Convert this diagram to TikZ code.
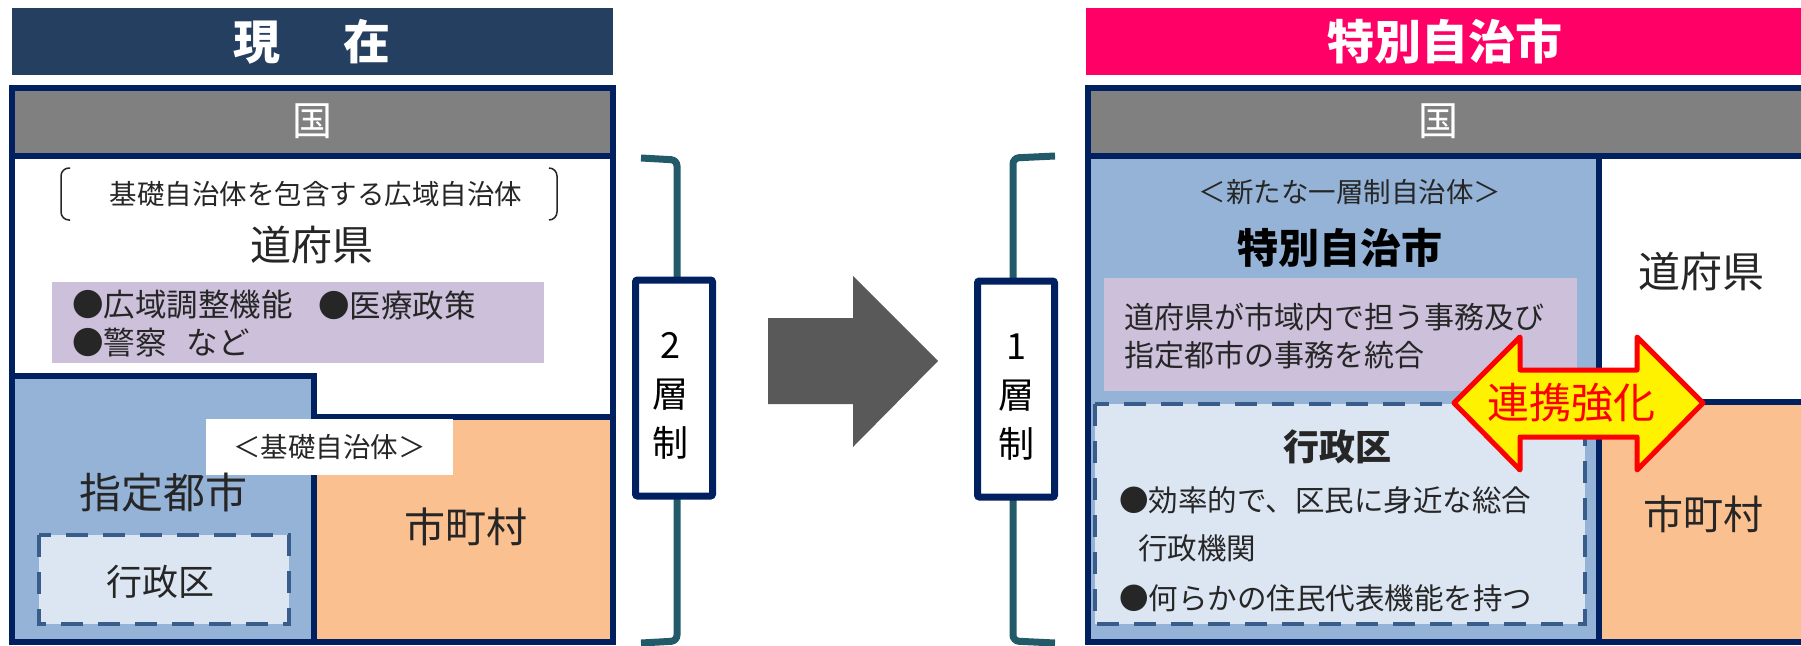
\documentclass[tikz,border=0pt]{standalone}
\usepackage{fontspec}
\setmainfont{Noto Sans CJK JP}

\definecolor{navy}{RGB}{0,32,96}
\definecolor{slate}{RGB}{36,63,96}
\definecolor{pinkred}{RGB}{255,0,102}
\definecolor{kunigray}{RGB}{128,128,128}
\definecolor{cityblue}{RGB}{149,179,215}
\definecolor{townorange}{RGB}{250,192,144}
\definecolor{lavender}{RGB}{204,192,218}
\definecolor{wardblue}{RGB}{220,230,242}
\definecolor{dashblue}{RGB}{56,93,138}
\definecolor{bracketteal}{RGB}{35,90,105}
\definecolor{arrowgray}{RGB}{89,89,89}
\definecolor{txt}{RGB}{38,38,38}

\newcommand\jpsize[1]{\fontsize{#1pt}{#1pt}\selectfont}

\tikzset{
  every node/.style={inner sep=0pt, text=txt},
  titletext/.style={font=\bfseries\jpsize{47}, text=white},
  kuni/.style={font=\jpsize{40}, text=white},
  bigname/.style={font=\jpsize{41}},
  small/.style={font=\jpsize{27.5}},
  navyline/.style={draw=navy, line width=6pt},
  wardbox/.style={fill=wardblue, draw=dashblue, line width=4.5pt, dash pattern=on 22pt off 15pt},
  layerbox/.style={draw=navy, fill=white, line width=7pt, rounded corners=2pt, minimum width=77pt, minimum height=216pt},
  layertext/.style={font=\fontsize{36pt}{49pt}\selectfont, text=black, align=center},
  bracket/.style={draw=bracketteal, line width=7pt, rounded corners=6pt},
}

\begin{document}
\begin{tikzpicture}[x=1pt, y=-1pt]
    \useasboundingbox (0,0) rectangle (1801,645);
    \clip (0,0) rectangle (1801,645);

    % Current system
    \fill[slate] (12,8) rectangle (613,75);
    \node[titletext] (nowtitle) at (312,42) {現\hspace{64pt}在};
    \fill[white] (12,88) rectangle (613,642);
    \fill[kunigray] (12,88) rectangle (613,156);
    \draw[navyline] (12,156) -- (613,156);
    \node[kuni] (nowkuni) at (312,121) {国};

    \draw[txt, line width=1.5pt, rounded corners=8pt] (70,168) -- (61,168) -- (61,220) -- (70,220);
    \draw[txt, line width=1.5pt, rounded corners=8pt] (549,168) -- (557,168) -- (557,220) -- (549,220);
    \node[small] (paren) at (316,194) {基礎自治体を包含する広域自治体};
    \node[bigname] (nowpref) at (312,245) {道府県};

    \fill[lavender] (52,282) rectangle (544,363);
    \node[font=\jpsize{31.5}, anchor=west] (prefjob1) at (72,305) {●広域調整機能};
    \node[font=\jpsize{31.5}, anchor=west] (prefjob2) at (318,305) {●医療政策};
    \node[font=\jpsize{31.5}, anchor=west] (prefjob3) at (72,343) {●警察\hspace{20pt}など};

    \filldraw[fill=cityblue, navyline] (12,376) rectangle (314,642);
    \filldraw[fill=townorange, navyline] (314,417) rectangle (613,642);
    \node[small, fill=white, minimum width=247pt, minimum height=56pt] (basiclabel) at (329.5,447) {＜基礎自治体＞};
    \node[font=\jpsize{42}] (nowcity) at (163,493) {指定都市};
    \draw[wardbox] (39,535) rectangle (289,624);
    \node[font=\jpsize{36}] (nowward) at (160,582) {行政区};
    \node[bigname] (nowtown) at (466,527) {市町村};
    \draw[navyline] (12,88) rectangle (613,642);

    % Two tiers -> one tier
    \draw[bracket] (641,158) -- (677,160) -- (677,641) -- (641,643);
    \node[layerbox] (two) at (674,388) {};
    \node[layertext] (twotxt) at (670,396) {2\\層\\制};
    \fill[arrowgray] (768,318) -- (853,318) -- (853,276) -- (938,361) -- (853,447) -- (853,404) -- (768,404) -- cycle;
    \draw[bracket] (1055,156) -- (1013,158) -- (1013,641) -- (1055,643);
    \node[layerbox] (one) at (1016,389) {};
    \node[layertext] (onetxt) at (1016,397) {1\\層\\制};

    % Special city
    \fill[pinkred] (1086,8) rectangle (1850,75);
    \node[titletext] (newtitle) at (1445,42) {特別自治市};
    \fill[white] (1088,88) rectangle (1850,642);
    \fill[kunigray] (1088,88) rectangle (1850,156);
    \draw[navyline] (1088,156) -- (1850,156);
    \node[kuni] (newkuni) at (1438,121) {国};

    \filldraw[fill=cityblue, navyline] (1088,156) rectangle (1599,642);
    \filldraw[fill=townorange, navyline] (1599,402) rectangle (1850,642);
    \node[small] (newtype) at (1350,192) {＜新たな一層制自治体＞};
    \node[font=\bfseries\jpsize{41}, text=black] (special) at (1340,248) {特別自治市};

    \fill[lavender] (1104,278) rectangle (1577,391);
    \node[font=\jpsize{30}, anchor=west] (merge1) at (1124,317) {道府県が市域内で担う事務及び};
    \node[font=\jpsize{30}, anchor=west] (merge2) at (1124,355) {指定都市の事務を統合};

    \draw[wardbox] (1095,404) rectangle (1585,624);
    \node[font=\bfseries\jpsize{36}] (newward) at (1337,447) {行政区};
    \node[font=\jpsize{29.5}, anchor=west] (wardrole1) at (1119,500) {●効率的で、区民に身近な総合};
    \node[font=\jpsize{29.5}, anchor=west] (wardrole2) at (1138,548) {行政機関};
    \node[font=\jpsize{29.5}, anchor=west] (wardrole3) at (1119,598) {●何らかの住民代表機能を持つ};

    \node[font=\jpsize{42}] (newpref) at (1701,272) {道府県};
    \node[font=\jpsize{40}] (newtown) at (1703,514) {市町村};
    \draw[navyline] (1088,88) rectangle (1850,642);

    % Cooperation
    \filldraw[fill=yellow, draw=red, line width=5pt, line join=round]
        (1454,403) -- (1520,337) -- (1520,370) -- (1637,370) -- (1637,337) -- (1703,403)
        -- (1637,470) -- (1637,437) -- (1520,437) -- (1520,470) -- cycle;
    \node[font=\jpsize{42}, text=red] (link) at (1571,403) {連携強化};
\end{tikzpicture}
\end{document}
